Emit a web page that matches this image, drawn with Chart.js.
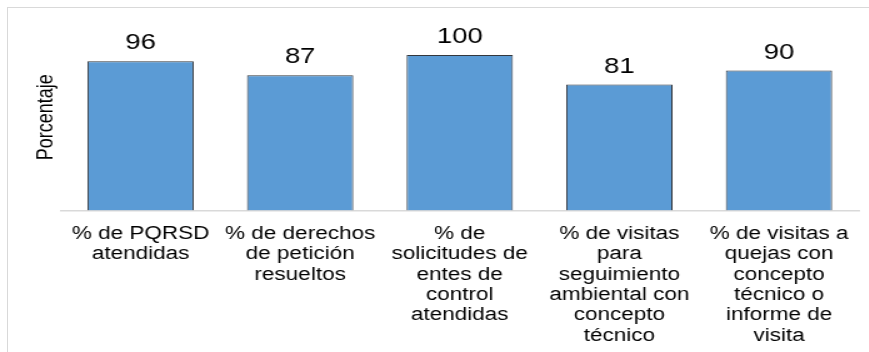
<!DOCTYPE html>
<html>
<head>
<meta charset="utf-8">
<script src="https://cdn.jsdelivr.net/npm/chart.js@4.4.1/dist/chart.umd.min.js"></script>
<style>
  html, body { margin: 0; padding: 0; background: #fff; overflow: hidden; }
  #frame {
    position: absolute; left: 7px; top: 7px; width: 900px; height: 400px;
    border: 1px solid #d9d9d9; box-sizing: border-box;
  }
  #wrap {
    position: absolute; left: 0; top: 0; width: 695px; height: 361px;
    transform: scaleX(1.25); transform-origin: 0 0;
  }
</style>
</head>
<body>
<div id="frame"></div>
<div id="wrap"><canvas id="chart"></canvas></div>
<script>
const categories = [
  ["% de PQRSD", "atendidas"],
  ["% de derechos", "de petición", "resueltos"],
  ["% de", "solicitudes de", "entes de", "control", "atendidas"],
  ["% de visitas", "para", "seguimiento", "ambiental con", "concepto", "técnico"],
  ["% de visitas a", "quejas con", "concepto", "técnico o", "informe de", "visita"]
];
const porcentajes = [96, 87, 100, 81, 90];
const yTitle = "Porcentaje";

// etiquetas de valor encima de cada barra
const valueLabels = {
  id: 'valueLabels',
  afterDatasetsDraw(chart) {
    const ctx = chart.ctx;
    const meta = chart.getDatasetMeta(0);
    ctx.save();
    ctx.font = '22px "Liberation Sans", Arial, sans-serif';
    ctx.fillStyle = '#000';
    ctx.textAlign = 'center';
    ctx.textBaseline = 'alphabetic';
    meta.data.forEach((bar, i) => {
      ctx.fillText(porcentajes[i], bar.x, bar.y - 12);
    });
    ctx.restore();
  }
};

const ctx = document.getElementById('chart').getContext('2d');
new Chart(ctx, {
  type: 'bar',
  data: {
    labels: categories,
    datasets: [{
      data: porcentajes,
      backgroundColor: '#5b9bd5',
      borderColor: '#33373d',
      borderWidth: 1,
      borderSkipped: 'bottom',
      barPercentage: 0.666,
      categoryPercentage: 1
    }]
  },
  options: {
    responsive: true,
    maintainAspectRatio: false,
    animation: false,
    layout: { padding: { top: 24, right: 8, bottom: 1.5, left: 19 } },
    plugins: {
      legend: { display: false },
      tooltip: { enabled: false }
    },
    scales: {
      x: {
        grid: { display: false, drawTicks: false },
        border: { display: true, color: '#d9d9d9', width: 1.5 },
        ticks: {
          autoSkip: false,
          maxRotation: 0,
          minRotation: 0,
          padding: 13.5,
          color: '#000',
          font: { family: '"Liberation Sans", Arial, sans-serif', size: 18, lineHeight: 1.13 }
        }
      },
      y: {
        min: 0,
        max: 120,
        grid: { display: false, drawTicks: false },
        border: { display: false },
        ticks: { display: false },
        title: {
          display: true,
          text: yTitle,
          color: '#000',
          padding: { top: 7, bottom: 1 },
          font: { family: '"Liberation Sans", Arial, sans-serif', size: 18 }
        }
      }
    }
  },
  plugins: [valueLabels]
});
</script>
</body>
</html>
